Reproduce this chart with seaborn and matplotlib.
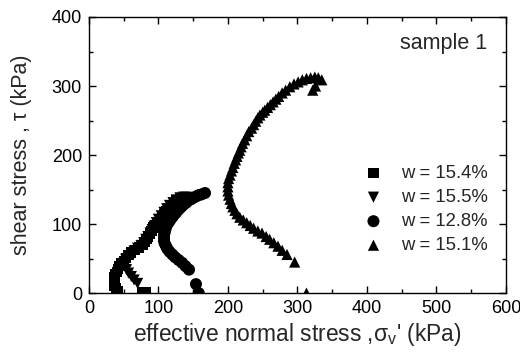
import matplotlib
matplotlib.use("Agg")
import matplotlib.pyplot as plt
from matplotlib.ticker import MultipleLocator
import pandas as pd
import seaborn as sns

# Stress paths (effective normal stress, shear stress) in kPa
sigma_154 = [82, 77, 42, 39, 37, 36, 36, 37, 38, 40, 42, 44, 47, 50, 53, 57, 61, 66,
             72, 77, 80, 83, 85, 88, 90, 93, 96, 99, 102, 105, 108, 111, 114, 118,
             122, 126, 131, 136]
tau_154 = [1, 1, 3, 7, 11, 15, 19, 23, 27, 31, 35, 39, 43, 47, 51, 55, 59, 62,
           66, 70, 74, 78, 82, 86, 90, 95, 99, 103, 107, 111, 115, 119, 123, 127,
           131, 134, 136, 137]

sigma_155 = [70, 65, 61, 57, 54, 52, 51, 53, 57, 61, 65, 70, 75, 79, 82, 85, 88, 91,
             94, 97, 100, 104, 108, 112, 116, 121, 126, 131, 136, 140]
tau_155 = [14, 19, 24, 29, 34, 39, 44, 49, 53, 57, 61, 65, 69, 73, 78, 82, 87, 92,
           97, 102, 107, 112, 117, 122, 127, 131, 135, 138, 139, 139]

sigma_128 = [158, 154, 144, 139, 134, 129, 124, 120, 116, 113, 111, 109, 108, 108,
             108, 109, 110, 111, 113, 115, 117, 120, 122, 125, 128, 131, 134, 137,
             140, 143, 147, 150, 154, 158, 162, 167]
tau_128 = [0, 13, 34, 39, 44, 48, 52, 56, 60, 64, 68, 72, 76, 80,
           84, 88, 92, 96, 100, 103, 106, 110, 113, 116, 120, 123, 126, 129,
           131, 134, 136, 138, 140, 142, 143, 145]

sigma_151 = [313, 296, 285, 278, 272, 266, 260, 255, 249, 243, 237, 232, 227, 222,
             217, 213, 210, 207, 205, 203, 201, 200, 200, 200, 201, 203, 205, 207,
             209, 211, 213, 215, 217, 219, 221, 224, 227, 230, 234, 237, 240, 243,
             246, 250, 253, 257, 261, 265, 269, 273, 278, 283, 289, 295, 301, 307,
             313, 319, 325, 330, 335, 326, 322]
tau_151 = [0, 45, 56, 62, 68, 73, 78, 82, 87, 90, 94, 98, 102, 106,
           110, 115, 120, 125, 130, 136, 142, 148, 154, 160, 166, 171, 177, 182,
           188, 193, 198, 203, 207, 212, 217, 222, 228, 234, 239, 244, 249, 254,
           258, 262, 265, 269, 273, 277, 281, 285, 290, 294, 299, 303, 306, 309,
           311, 312, 313, 312, 309, 300, 294]

series_labels = ["w = 15.4%", "w = 15.5%", "w = 12.8%", "w = 15.1%"]
series_sigma = [sigma_154, sigma_155, sigma_128, sigma_151]
series_tau = [tau_154, tau_155, tau_128, tau_151]
series_markers = ["s", "v", "o", "^"]
series_sizes = [55, 65, 75, 65]

sns.set_theme(style="ticks")
plt.rcParams["font.family"] = ["Liberation Sans", "DejaVu Sans"]

fig = plt.figure(figsize=(5.2, 3.54), dpi=100)
ax = fig.add_axes([0.171, 0.172, 0.802, 0.780])

for lab, xs, ys, mk, sz in zip(series_labels, series_sigma, series_tau,
                               series_markers, series_sizes):
    df = pd.DataFrame({"sigma": xs, "tau": ys})
    sns.scatterplot(data=df, x="sigma", y="tau", ax=ax, marker=mk, s=sz,
                    color="black", edgecolor="none", linewidth=0, label=lab)

ax.set_xlim(0, 600)
ax.set_ylim(0, 400)
ax.xaxis.set_major_locator(MultipleLocator(100))
ax.xaxis.set_minor_locator(MultipleLocator(50))
ax.yaxis.set_major_locator(MultipleLocator(100))
ax.yaxis.set_minor_locator(MultipleLocator(50))
ax.tick_params(which="both", direction="in", top=True, right=True,
               labelsize=13, colors="black", width=1)
ax.tick_params(which="major", length=5, pad=5)
ax.tick_params(which="minor", length=3)
for sp in ax.spines.values():
    sp.set_linewidth(1.0)
    sp.set_color("black")

ax.set_xlabel("effective normal stress ,σ$_\\mathregular{v}$' (kPa)", fontsize=16.4, labelpad=3)
ax.set_ylabel("shear stress , τ (kPa)", fontsize=15.5, labelpad=14)

ax.text(0.954, 0.905, "sample 1", transform=ax.transAxes, ha="right", va="center",
        fontsize=15.5)

leg = ax.legend(loc="lower left", bbox_to_anchor=(0.638, 0.108), frameon=False,
                fontsize=13.3, handletextpad=1.0, labelspacing=0.38, borderpad=0,
                handlelength=1.0)

fig.savefig("out.png", dpi=100)
